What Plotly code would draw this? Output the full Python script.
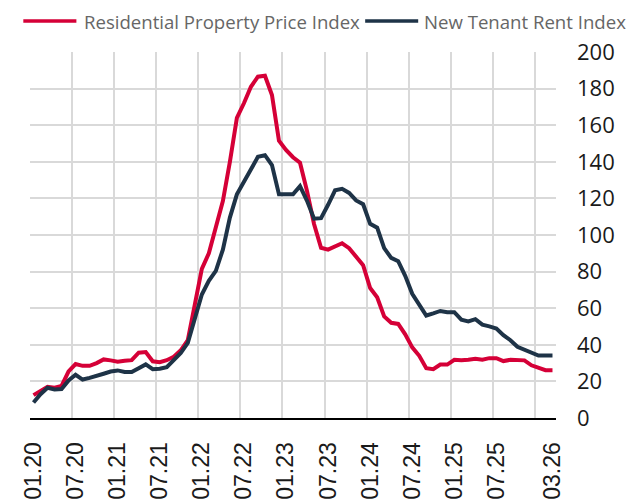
import plotly.graph_objects as go

# ---- data (monthly, 01.2020 .. 03.2026) ----
price_index = [
    12.5, 15.0, 17.0, 16.5, 17.5, 25.5, 29.5, 28.5, 28.5, 30.0, 32.0, 31.5,
    30.8, 31.3, 31.6, 35.7, 36.0, 31.0, 30.5, 31.6, 33.5, 37.0, 42.5, 62.0,
    81.5, 90.0, 103.5, 118.5, 140.0, 164.0, 172.0, 181.0, 186.5, 187.0, 176.5, 151.5,
    146.5, 142.5, 139.5, 124.0, 106.0, 93.0, 92.0, 93.5, 95.5, 92.8, 88.4, 83.5,
    71.0, 66.0, 55.5, 52.0, 51.4, 45.7, 38.6, 34.0, 27.2, 26.7, 29.2, 29.2,
    31.8, 31.5, 31.8, 32.4, 31.8, 32.7, 32.7, 31.1, 31.8, 31.5, 31.5, 28.8,
    27.4, 26.1, 26.1,
]
rent_index = [
    8.5, 13.0, 16.5, 15.6, 15.8, 20.5, 23.6, 21.0, 21.9, 22.8, 24.2, 25.4,
    26.0, 25.1, 25.1, 27.2, 29.3, 26.7, 26.9, 27.8, 31.3, 35.5, 41.0, 53.7,
    67.5, 75.0, 80.4, 92.0, 109.5, 122.2, 129.3, 135.6, 142.7, 143.6, 138.2, 122.2,
    122.2, 122.2, 126.7, 118.7, 108.9, 109.2, 116.5, 124.4, 125.2, 123.0, 118.9, 116.8,
    106.1, 104.0, 92.8, 87.5, 85.7, 77.7, 67.9, 61.7, 56.0, 57.2, 58.5, 57.8,
    57.8, 53.7, 52.8, 54.0, 51.0, 50.1, 48.9, 45.3, 42.5, 38.9, 37.2, 35.9,
    34.1, 34.1, 34.1,
]
tick_positions = [0, 6, 12, 18, 24, 30, 36, 42, 48, 54, 60, 66, 74]
tick_labels = ["01.20", "07.20", "01.21", "07.21", "01.22", "07.22", "01.23",
               "07.23", "01.24", "07.24", "01.25", "07.25", "03.26"]
grid_positions = [p - 0.5 for p in range(0, 73, 6)]   # month boundaries
y_ticks = list(range(0, 201, 20))

series_names = ["Residential Property Price Index", "New Tenant Rent Index"]
colors = ["#d50037", "#1e3347"]

months = list(range(len(price_index)))
xrange = [-0.5, len(months) - 0.5]

fig = go.Figure()
# invisible helper so the boundary-grid axis is rendered
fig.add_trace(go.Scatter(x=[xrange[0]], y=[None], xaxis="x2", yaxis="y",
                         showlegend=False, hoverinfo="skip", mode="lines"))
fig.add_trace(go.Scatter(x=months, y=price_index, mode="lines", name=series_names[0],
                         line=dict(color=colors[0], width=4), xaxis="x", yaxis="y"))
fig.add_trace(go.Scatter(x=months, y=rent_index, mode="lines", name=series_names[1],
                         line=dict(color=colors[1], width=4), xaxis="x", yaxis="y"))

fig.update_layout(
    width=641, height=504,
    margin=dict(l=21, r=93, t=44, b=85),
    plot_bgcolor="white", paper_bgcolor="white",
    showlegend=False,
    xaxis=dict(
        range=xrange, tickmode="array", tickvals=tick_positions, ticktext=tick_labels,
        tickangle=-90, showgrid=False, zeroline=False,
        showline=True, linecolor="#000000", linewidth=2,
        ticks="", ticklabelstandoff=13,
        tickfont=dict(family="Liberation Sans, Arial, sans-serif", size=23, color="#1a1a1a"),
    ),
    xaxis2=dict(
        range=xrange, overlaying="x", matches="x", tickmode="array", tickvals=grid_positions,
        showgrid=True, gridcolor="#d9d9d9", gridwidth=1.5,
        showticklabels=False, ticks="", zeroline=False, showline=False,
    ),
    yaxis=dict(
        range=[0, 200], side="right", tickmode="array", tickvals=y_ticks,
        showgrid=True, gridcolor="#d9d9d9", gridwidth=1.5, zeroline=False,
        ticks="", ticklabelstandoff=20,
        tickfont=dict(family="Open Sans, sans-serif", size=22, color="#1a1a1a"),
    ),
)

# legend drawn manually (long line swatches like the original)
legend_items = [
    (series_names[0], colors[0], -0.0127, 0.0882, 0.0990),
    (series_names[1], colors[1], 0.6372, 0.7380, 0.7450),
]
for name, col, x0, x1, xt in legend_items:
    fig.add_shape(type="line", xref="paper", yref="paper", x0=x0, x1=x1,
                  y0=1.0845, y1=1.0845, line=dict(color=col, width=3.5))
    fig.add_annotation(xref="paper", yref="paper", x=xt, y=1.0845, text=name,
                       showarrow=False, xanchor="left", yanchor="middle",
                       font=dict(family="Open Sans, sans-serif", size=18.6, color="#666666"))

fig.write_html("out.html")
